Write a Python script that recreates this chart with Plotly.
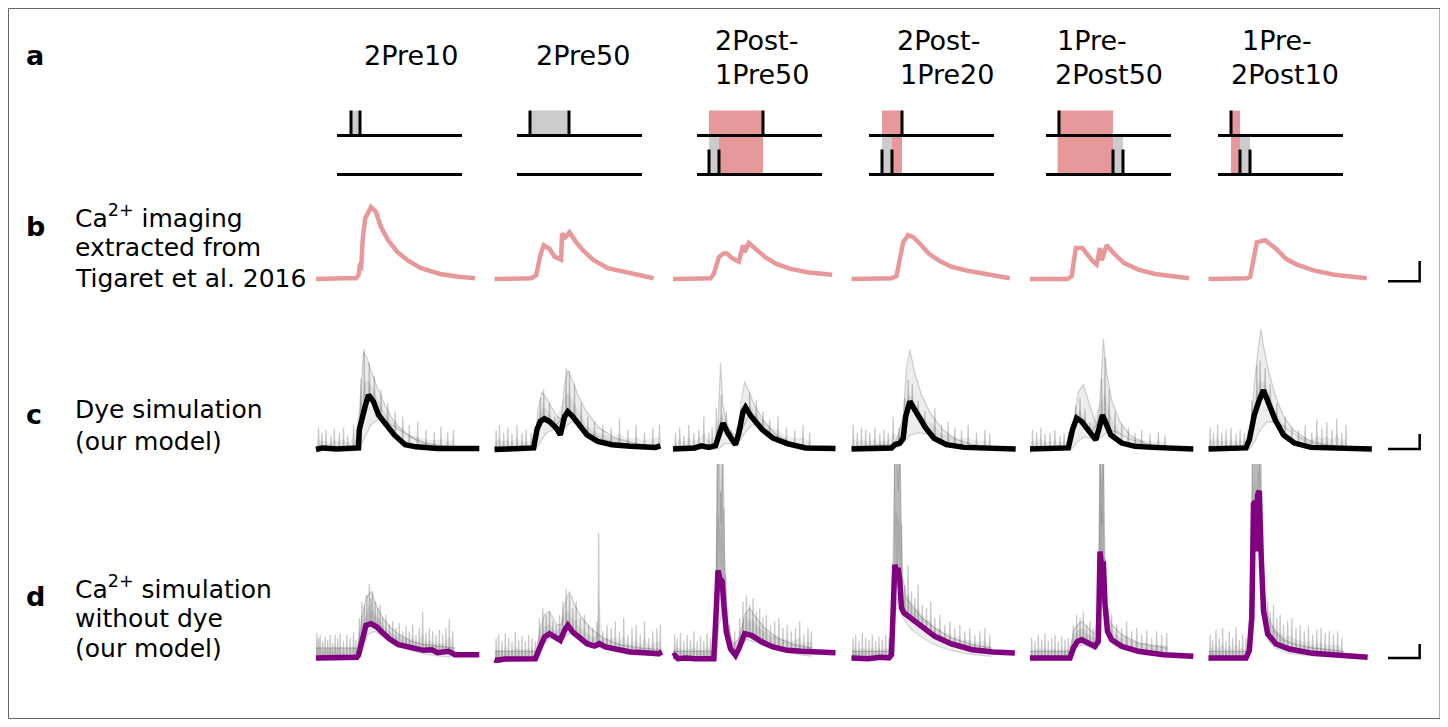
import numpy as np
import plotly.graph_objects as go

# page is rendered with an 8px body margin -> figure occupies [8, 1448] x [8, 727]
OX, OY = 8, 8
FW, FH = 1440, 719

# ---------------- data ----------------
titles = [["2Pre10"], ["2Pre50"], ["2Post-", "1Pre50"], ["2Post-", "1Pre20"],
          ["1Pre-", "2Post50"], ["1Pre-", "2Post10"]]
title_x = [[362], [534], [713, 713], [895, 898], [1055, 1053], [1240, 1229]]

# stimulation protocol diagrams (ms)
diag_len = 150
pre_times = [[16.8, 27.6], [15.6, 62.4], [79.2], [39.6], [15.6], [15.6]]
post_times = [[], [], [14.4, 26.4], [15.6, 27.6], [80.4, 92.4], [26.4, 38.4]]
pink_windows = [None, None, [14.4, 79.2], [15.6, 39.6], [14.0, 80.4], [15.6, 26.4]]

# row b: Ca imaging (Tigaret et al. 2016), normalised
b_t = [
    [0, 16, 33, 48, 51, 53, 54, 56, 59, 66, 72, 78, 87, 98, 111, 126, 149, 171, 191],
    [0, 21, 44, 50, 55, 59, 66, 72, 80, 81, 85, 90, 98, 106, 119, 136, 158, 191],
    [0, 45, 49, 55, 60, 64, 71, 79, 84, 86, 91, 99, 111, 124, 141, 163, 191],
    [0, 25, 48, 54, 58, 62, 68, 74, 83, 93, 106, 120, 141, 161, 190],
    [0, 45, 50, 55, 63, 69, 75, 80, 84, 86, 92, 101, 113, 130, 150, 191],
    [0, 46, 50, 54, 58, 68, 81, 93, 106, 126, 151, 190],
]
b_y = [
    [0.0, 0.01, 0.01, 0.01, 0.05, 0.22, 0.12, 0.55, 0.84, 1.0, 0.93, 0.72, 0.53, 0.37, 0.25, 0.15, 0.07, 0.03, 0.01],
    [0.0, 0.0, 0.01, 0.05, 0.33, 0.47, 0.42, 0.31, 0.27, 0.63, 0.58, 0.65, 0.51, 0.40, 0.26, 0.15, 0.09, 0.01],
    [0.0, 0.01, 0.07, 0.30, 0.35, 0.36, 0.29, 0.24, 0.47, 0.37, 0.50, 0.42, 0.30, 0.21, 0.14, 0.09, 0.06],
    [0.0, 0.0, 0.01, 0.04, 0.30, 0.51, 0.61, 0.58, 0.48, 0.35, 0.25, 0.17, 0.11, 0.07, 0.01],
    [0.0, 0.0, 0.04, 0.43, 0.43, 0.33, 0.25, 0.20, 0.43, 0.26, 0.47, 0.35, 0.22, 0.13, 0.07, 0.01],
    [0.0, 0.01, 0.03, 0.28, 0.51, 0.54, 0.42, 0.28, 0.20, 0.12, 0.06, 0.01],
]

# row c: dye simulation mean
c_t = [
    [0, 8, 25, 43, 51, 52, 55, 59, 63, 69, 75, 84, 94, 107, 120, 146, 167, 196],
    [0, 26, 47, 51, 55, 60, 66, 74, 79, 84, 88, 94, 103, 111, 124, 141, 163, 193, 199],
    [0, 26, 34, 43, 51, 56, 60, 66, 75, 79, 84, 87, 94, 107, 120, 137, 159, 195],
    [0, 48, 52, 58, 62, 65, 70, 79, 89, 99, 114, 135, 163, 197],
    [0, 46, 51, 56, 62, 70, 79, 83, 87, 91, 97, 110, 126, 147, 168, 196],
    [0, 45, 49, 55, 61, 66, 72, 80, 90, 103, 123, 165, 196],
]
c_y = [
    [-0.01, 0.02, 0.0, 0.0, 0.02, 0.36, 0.60, 0.79, 1.0, 0.88, 0.63, 0.45, 0.26, 0.08, 0.04, 0.01, 0.01, 0.01],
    [-0.01, 0.0, 0.02, 0.36, 0.51, 0.56, 0.51, 0.39, 0.26, 0.60, 0.69, 0.60, 0.42, 0.26, 0.14, 0.08, 0.05, 0.03, 0.06],
    [0.0, 0.02, 0.06, 0.03, 0.06, 0.26, 0.48, 0.29, 0.08, 0.29, 0.69, 0.77, 0.60, 0.36, 0.20, 0.10, 0.02, 0.01],
    [0.0, 0.02, 0.08, 0.11, 0.20, 0.60, 0.88, 0.63, 0.39, 0.20, 0.08, 0.03, 0.01, 0.0],
    [0.0, 0.02, 0.36, 0.57, 0.51, 0.33, 0.17, 0.39, 0.63, 0.48, 0.26, 0.11, 0.05, 0.03, 0.02, 0.0],
    [0.0, 0.02, 0.17, 0.63, 0.91, 1.09, 0.85, 0.54, 0.26, 0.11, 0.03, 0.01, 0.0],
]
# row c: individual runs (tall and slow examples) and noise spikes
c_tall_t = [
    [0, 50, 53, 57, 61, 66, 72, 80, 90, 100, 115, 130, 150, 167],
    [0, 48, 52, 57, 62, 68, 75, 80, 84, 88, 93, 100, 110, 125, 145, 170, 200],
    [0, 50, 54, 57, 60, 64, 70, 78, 82, 86, 90, 98, 110, 125, 145, 167],
    [0, 50, 55, 62, 66, 70, 76, 84, 95, 110, 125, 145, 168],
    [0, 48, 53, 58, 64, 70, 76, 80, 84, 88, 92, 98, 108, 120, 140, 165],
    [0, 46, 50, 55, 60, 63, 66, 72, 80, 90, 102, 118, 135, 150, 167],
]
c_tall_y = [
    [0.05, 0.05, 0.9, 1.8, 1.7, 1.45, 1.2, 0.9, 0.6, 0.4, 0.22, 0.12, 0.06, 0.04],
    [0.05, 0.05, 0.7, 1.05, 0.95, 0.8, 0.6, 0.55, 1.2, 1.45, 1.3, 1.0, 0.7, 0.4, 0.2, 0.1, 0.05],
    [0.05, 0.05, 0.4, 1.6, 0.8, 0.5, 0.3, 0.25, 0.9, 1.25, 1.1, 0.8, 0.5, 0.25, 0.1, 0.05],
    [0.05, 0.08, 0.2, 0.6, 1.5, 1.84, 1.4, 1.0, 0.65, 0.35, 0.18, 0.08, 0.04],
    [0.05, 0.05, 0.6, 1.05, 1.2, 0.9, 0.6, 0.45, 0.9, 2.04, 1.4, 0.9, 0.5, 0.25, 0.1, 0.05],
    [0.05, 0.05, 0.3, 1.2, 1.9, 2.23, 1.9, 1.45, 1.0, 0.6, 0.35, 0.18, 0.1, 0.06, 0.04],
]
c_slow_t = [
    [0, 52, 58, 66, 75, 85, 95, 110, 125, 140, 167],
    [0, 50, 56, 62, 70, 78, 85, 92, 100, 115, 130, 150, 200],
    [0, 55, 62, 70, 78, 86, 95, 105, 120, 140, 167],
    [0, 55, 62, 70, 80, 90, 100, 115, 130, 150, 168],
    [0, 50, 56, 64, 72, 80, 88, 96, 106, 120, 140, 165],
    [0, 50, 56, 62, 70, 80, 90, 100, 115, 135, 167],
]
c_slow_y = [
    [0.0, 0.0, 0.2, 0.45, 0.55, 0.5, 0.4, 0.25, 0.12, 0.05, 0.02],
    [0.0, 0.0, 0.15, 0.3, 0.35, 0.3, 0.4, 0.5, 0.45, 0.3, 0.18, 0.08, 0.02],
    [0.0, 0.0, 0.1, 0.1, 0.1, 0.3, 0.45, 0.4, 0.25, 0.1, 0.03],
    [0.0, 0.02, 0.1, 0.25, 0.3, 0.28, 0.22, 0.12, 0.06, 0.03, 0.01],
    [0.0, 0.0, 0.12, 0.22, 0.2, 0.15, 0.25, 0.35, 0.3, 0.18, 0.08, 0.03],
    [0.0, 0.0, 0.15, 0.35, 0.5, 0.5, 0.42, 0.3, 0.15, 0.06, 0.02],
]
c_spike_t = [
    [3, 7, 12, 18, 22, 28, 33, 38, 45, 54, 58, 64, 70, 78, 86, 95, 104, 112, 122, 132, 142, 150, 158, 165],
    [2, 6, 11, 16, 21, 27, 33, 38, 44, 55, 59, 66, 72, 86, 90, 96, 104, 112, 120, 130, 140, 150, 160, 170, 180, 190, 198],
    [3, 8, 13, 19, 25, 31, 37, 43, 47, 52, 58, 64, 70, 76, 92, 100, 108, 116, 126, 136, 146, 156, 164],
    [2, 7, 12, 17, 22, 28, 34, 39, 44, 50, 57, 64, 68, 73, 80, 88, 100, 108, 116, 124, 132, 140, 150, 160, 166],
    [3, 8, 13, 18, 24, 30, 36, 41, 46, 55, 60, 66, 72, 86, 90, 95, 102, 110, 118, 126, 134, 144, 154, 162],
    [2, 6, 11, 16, 21, 27, 33, 38, 43, 52, 58, 62, 68, 74, 82, 92, 100, 108, 116, 124, 130, 136, 142, 148, 154, 160, 165],
]
c_spike_top = [
    [0.4, 0.3, 0.35, 0.25, 0.38, 0.3, 0.4, 0.25, 0.45, 1.3, 1.85, 1.6, 1.35, 1.1, 0.85, 0.7, 0.6, 0.45, 0.5, 0.35, 0.32, 0.42, 0.3, 0.35],
    [0.35, 0.45, 0.3, 0.4, 0.28, 0.45, 0.3, 0.35, 0.3, 0.95, 1.1, 0.85, 0.6, 1.5, 1.45, 1.2, 0.85, 0.6, 0.5, 0.45, 0.4, 0.55, 0.35, 0.45, 0.3, 0.4, 0.45],
    [0.3, 0.4, 0.25, 0.45, 0.3, 0.35, 0.6, 0.3, 0.4, 0.75, 1.0, 0.7, 0.35, 0.4, 1.05, 0.9, 0.7, 0.55, 0.6, 0.4, 0.35, 0.45, 0.3],
    [0.45, 0.3, 0.4, 0.35, 0.3, 0.4, 0.28, 0.35, 0.3, 0.6, 0.4, 0.95, 1.28, 1.2, 0.9, 0.7, 0.75, 0.45, 0.5, 0.4, 0.35, 0.45, 0.3, 0.35, 0.28],
    [0.35, 0.3, 0.4, 0.28, 0.3, 0.35, 0.25, 0.3, 0.32, 0.8, 0.95, 0.75, 0.5, 1.3, 1.7, 1.1, 0.7, 0.45, 0.4, 0.3, 0.35, 0.28, 0.32, 0.25],
    [0.4, 0.3, 0.45, 0.3, 0.35, 0.4, 0.28, 0.35, 0.3, 0.9, 1.55, 1.64, 1.5, 1.2, 0.85, 0.6, 0.4, 0.35, 0.45, 0.3, 0.55, 0.4, 0.5, 0.35, 0.57, 0.3, 0.45],
]

# row d: Ca simulation without dye, mean
d_t = [
    [0, 2, 8, 15, 26, 38, 49, 51, 56, 60, 66, 73, 79, 88, 99, 111, 129, 139, 146, 159, 167, 196],
    [0, 2, 13, 26, 39, 49, 54, 60, 66, 75, 79, 84, 88, 94, 103, 111, 120, 126, 133, 146, 163, 180, 197, 201],
    [0, 2, 6, 15, 26, 38, 49, 52, 54, 56, 57, 59, 61, 64, 69, 75, 79, 86, 94, 107, 120, 137, 154, 167, 195],
    [0, 20, 35, 45, 48, 50, 52, 54, 56, 58, 60, 63, 68, 75, 85, 100, 120, 145, 170, 196],
    [0, 25, 48, 52, 57, 62, 70, 78, 82, 83, 84, 86, 88, 90, 93, 98, 110, 130, 160, 196],
    [0, 17, 33, 45, 49, 52, 54, 56, 57.5, 59, 61, 63, 66, 71, 81, 97, 125, 149, 163, 191],
]
d_y = [
    [0.0, 0.0, -0.02, 0.02, 0.0, 0.02, 0.02, 0.08, 0.58, 0.98, 1.03, 0.93, 0.78, 0.58, 0.40, 0.32, 0.23, 0.25, 0.16, 0.20, 0.10, 0.10],
    [-0.05, -0.07, -0.03, -0.02, 0.0, -0.02, 0.28, 0.63, 0.73, 0.58, 0.53, 0.83, 0.98, 0.78, 0.58, 0.43, 0.36, 0.43, 0.33, 0.26, 0.18, 0.16, 0.13, 0.18],
    [0.05, 0.08, -0.02, 0.0, -0.02, 0.0, -0.02, 1.5, 2.63, 2.4, 2.35, 2.3, 1.6, 0.78, 0.28, 0.08, 0.28, 0.73, 0.68, 0.48, 0.33, 0.23, 0.20, 0.20, 0.16],
    [0.0, -0.02, 0.02, 0.0, 0.1, 1.5, 2.8, 2.6, 2.7, 2.3, 1.5, 1.35, 1.25, 1.1, 0.9, 0.65, 0.42, 0.25, 0.18, 0.15],
    [0.0, -0.02, 0.0, 0.3, 0.5, 0.55, 0.45, 0.35, 0.5, 1.5, 3.2, 2.7, 2.9, 1.6, 0.8, 0.55, 0.35, 0.2, 0.1, 0.05],
    [0.0, 0.02, 0.0, 0.0, 0.22, 1.22, 4.62, 4.7, 3.2, 4.9, 5.02, 3.22, 1.42, 0.72, 0.42, 0.27, 0.14, 0.10, 0.07, 0.02],
]
d_tall_t = [
    [0, 50, 55, 60, 66, 72, 80, 90, 100, 115, 130, 150, 167],
    [0, 50, 55, 60, 66, 75, 80, 85, 90, 96, 105, 115, 130, 150, 175, 200],
    [0, 50, 52, 54, 56, 58, 60, 62, 66, 72, 80, 86, 92, 100, 110, 125, 145, 167],
    [0, 47, 50, 52, 54, 56, 58, 61, 66, 75, 85, 100, 120, 145, 168],
    [0, 48, 52, 57, 62, 70, 78, 82, 84, 86, 88, 90, 93, 98, 110, 130, 165],
    [0, 47, 50, 53, 55, 57, 59, 61, 63, 66, 72, 80, 90, 105, 125, 145, 163],
]
d_tall_y = [
    [0.3, 0.3, 1.2, 1.8, 2.0, 1.6, 1.2, 0.9, 0.7, 0.5, 0.4, 0.35, 0.3],
    [0.2, 0.2, 0.9, 1.3, 1.4, 1.0, 1.0, 1.7, 2.0, 1.6, 1.2, 0.9, 0.6, 0.4, 0.3, 0.25],
    [0.2, 0.2, 3.0, 6.5, 6.5, 4.0, 6.5, 3.0, 1.0, 0.4, 0.6, 1.3, 1.5, 1.2, 0.9, 0.6, 0.4, 0.3],
    [0.2, 0.2, 3.0, 6.5, 6.5, 5.0, 6.5, 2.5, 1.8, 1.5, 1.2, 0.9, 0.6, 0.4, 0.3],
    [0.2, 0.2, 0.8, 1.0, 1.1, 0.9, 0.7, 1.5, 6.5, 4.0, 6.5, 2.5, 1.4, 1.0, 0.7, 0.45, 0.3],
    [0.2, 0.2, 1.5, 6.5, 6.5, 6.0, 6.5, 6.5, 4.0, 2.0, 1.2, 0.8, 0.55, 0.4, 0.3, 0.25, 0.2],
]
d_slow_t = [
    [0, 50, 56, 62, 70, 80, 95, 110, 130, 150, 167],
    [0, 52, 58, 66, 75, 84, 90, 100, 115, 135, 160, 200],
    [0, 52, 55, 60, 65, 72, 80, 88, 96, 110, 130, 150, 167],
    [0, 48, 52, 56, 62, 70, 80, 95, 115, 140, 168],
    [0, 50, 56, 62, 70, 78, 84, 87, 90, 95, 105, 120, 140, 165],
    [0, 48, 52, 55, 58, 62, 66, 72, 80, 95, 115, 140, 163],
]
d_slow_y = [
    [-0.05, -0.05, 0.3, 0.7, 0.8, 0.65, 0.4, 0.25, 0.12, 0.05, 0.02],
    [-0.05, -0.05, 0.4, 0.6, 0.5, 0.6, 0.75, 0.6, 0.4, 0.25, 0.12, 0.05],
    [-0.05, -0.05, 1.0, 1.4, 0.6, 0.2, 0.3, 0.55, 0.5, 0.35, 0.2, 0.1, 0.05],
    [-0.05, 0.0, 1.2, 1.8, 1.2, 0.9, 0.7, 0.45, 0.25, 0.12, 0.05],
    [-0.05, -0.02, 0.3, 0.4, 0.35, 0.25, 1.5, 2.5, 1.2, 0.5, 0.3, 0.2, 0.1, 0.05],
    [-0.05, 0.0, 1.5, 3.5, 4.0, 3.5, 1.2, 0.5, 0.3, 0.15, 0.08, 0.04, 0.02],
]
d_spike_t = [
    [1, 3, 5, 8, 11, 14, 17, 20, 23, 26, 29, 33, 37, 41, 45, 48, 52, 55, 58, 61, 64, 66, 68, 71, 74, 77, 80, 84, 88, 92, 96, 100, 104, 108, 112, 116, 120, 124, 128, 132, 136, 140, 144, 148, 152, 156, 160, 164],
    [2, 5, 9, 13, 17, 21, 25, 29, 33, 37, 41, 45, 49, 54, 58, 62, 66, 70, 74, 78, 82, 86, 90, 94, 98, 103, 108, 113, 118, 123, 125, 130, 135, 140, 145, 150, 155, 160, 165, 170, 175, 180, 185, 190, 195, 199],
    [2, 5, 9, 13, 17, 21, 25, 29, 33, 37, 41, 45, 49, 53, 55, 57, 59, 61, 63, 68, 74, 80, 84, 88, 92, 96, 100, 104, 108, 112, 117, 122, 127, 132, 137, 142, 147, 152, 157, 162, 166],
    [2, 5, 9, 13, 17, 21, 25, 29, 33, 37, 41, 45, 50, 52, 54, 56, 58, 60, 64, 68, 72, 76, 80, 85, 90, 95, 100, 106, 112, 118, 124, 130, 136, 142, 148, 154, 160, 166],
    [2, 6, 10, 14, 18, 22, 26, 30, 34, 38, 42, 46, 52, 56, 60, 64, 68, 72, 76, 80, 84, 85, 87, 88, 90, 94, 98, 104, 110, 116, 122, 128, 134, 140, 146, 152, 158, 164],
    [2, 5, 9, 13, 17, 21, 25, 29, 33, 37, 41, 45, 51, 53, 55, 57, 59, 61, 63, 65, 68, 71, 74, 78, 82, 86, 90, 95, 100, 105, 110, 115, 120, 125, 130, 135, 140, 145, 150, 155, 160],
]
d_spike_top = [
    [0.75, 0.6, 0.7, 0.5, 0.65, 0.55, 0.7, 0.45, 0.7, 0.6, 0.75, 0.5, 0.7, 0.6, 0.78, 0.55, 1.2, 1.7, 1.6, 1.9, 2.23, 1.8, 2.0, 1.7, 1.5, 1.6, 1.2, 1.3, 1.0, 1.1, 0.9, 1.05, 0.8, 0.95, 0.8, 1.0, 0.7, 0.9, 1.38, 0.75, 0.9, 0.8, 0.7, 0.85, 0.7, 0.9, 1.18, 0.8],
    [0.6, 0.7, 0.5, 0.75, 0.6, 0.5, 0.78, 0.55, 0.65, 0.5, 0.7, 0.6, 0.5, 1.2, 1.5, 1.3, 1.4, 1.1, 1.0, 1.3, 1.7, 2.08, 1.9, 1.5, 1.7, 1.2, 1.3, 1.0, 0.9, 1.1, 3.76, 0.8, 1.0, 0.9, 1.1, 0.8, 1.2, 0.7, 0.9, 1.0, 0.7, 1.1, 0.6, 0.8, 0.9, 1.0],
    [0.7, 0.6, 0.75, 0.5, 0.7, 0.55, 0.8, 0.5, 0.65, 0.5, 0.75, 0.6, 0.55, 6.5, 6.5, 5.0, 6.5, 4.5, 2.5, 1.0, 0.8, 1.2, 1.7, 1.88, 1.6, 1.8, 1.4, 1.5, 1.2, 1.3, 1.0, 1.1, 1.2, 0.9, 1.0, 0.8, 0.9, 1.1, 0.7, 0.9, 0.8],
    [0.6, 0.7, 0.5, 0.75, 0.6, 0.55, 0.7, 0.5, 0.65, 0.55, 0.7, 0.6, 2.0, 6.5, 6.5, 6.0, 6.5, 4.0, 2.2, 2.8, 2.0, 1.8, 2.2, 1.6, 1.5, 1.7, 1.2, 1.3, 1.0, 1.1, 0.9, 1.0, 0.8, 0.9, 0.7, 0.8, 0.9, 0.7],
    [0.6, 0.5, 0.7, 0.55, 0.75, 0.5, 0.6, 0.7, 0.5, 0.65, 0.55, 0.6, 1.0, 1.3, 1.2, 1.4, 1.0, 1.1, 0.9, 1.0, 6.5, 6.5, 6.0, 6.5, 3.0, 1.5, 1.3, 1.0, 0.9, 1.1, 0.8, 0.9, 0.7, 0.85, 0.6, 0.8, 0.7, 0.75],
    [0.7, 0.55, 0.85, 0.6, 0.9, 0.5, 0.8, 0.6, 0.92, 0.55, 0.7, 0.6, 3.0, 6.5, 6.5, 6.5, 6.5, 6.5, 6.5, 4.0, 1.82, 1.7, 1.4, 1.6, 1.2, 1.3, 1.0, 1.1, 1.2, 0.9, 1.0, 0.8, 0.95, 0.7, 0.85, 0.9, 0.75, 0.8, 0.7, 0.8, 0.6],
]

# scale bars (ms, row units)
scalebar_ms = 38
scalebar_h = {"b": 0.28, "c": 0.28, "d": 0.42}

# ---------------- styling / layout constants ----------------
PINK = "rgb(230,152,154)"
GRAYFILL = "rgb(204,204,204)"
PURPLE = "rgb(128,0,128)"
FONT = "DejaVu Sans"
FS = 25
FS_TITLE = 27

DIAG_LEFT = [337, 517, 697, 869, 1046, 1218]
DIAG_PPMS = 125 / 150
TRACE_LEFT = [316, 494.5, 673, 851.5, 1030, 1208.5]
PPMS = 160 / 192
ROWS = {  # top_px, bottom_px, baseline_px, px_per_unit
    "b": (190, 292, 279, 72),
    "c": (300, 462, 449, 54),
    "d": (464, 668, 658, 33.3),
}


def PX(px):
    return (px - OX) / FW


def PY(py):
    return 1 - (py - OY) / FH


layout = dict(width=FW, height=FH, margin=dict(l=0, r=0, t=0, b=0),
              paper_bgcolor="white", plot_bgcolor="rgba(0,0,0,0)", showlegend=False)
fig = go.Figure()
_n = [0]


def new_axes(x0, x1, origin, ppx, y0, y1, base, ppy):
    _n[0] += 1
    s = "" if _n[0] == 1 else str(_n[0])
    layout["xaxis" + s] = dict(domain=[PX(x0), PX(x1)], range=[(x0 - origin) / ppx, (x1 - origin) / ppx],
                               visible=False, fixedrange=True, anchor="y" + s)
    layout["yaxis" + s] = dict(domain=[PY(y1), PY(y0)], range=[-(y1 - base) / ppy, (base - y0) / ppy],
                               visible=False, fixedrange=True, anchor="x" + s)
    return "x" + s, "y" + s


def add_line(xa, ya, x, y, color, width):
    fig.add_trace(go.Scatter(x=x, y=y, xaxis=xa, yaxis=ya, mode="lines",
                             line=dict(color=color, width=width), hoverinfo="skip"))


def add_rect(xa, ya, a, b, y0, y1, color):
    fig.add_trace(go.Scatter(x=[a, b, b, a, a], y=[y0, y0, y1, y1, y0], xaxis=xa, yaxis=ya,
                             mode="lines", fill="toself", fillcolor=color, line=dict(width=0),
                             hoverinfo="skip"))


def add_band(xa, ya, lo_t, lo_y, hi_t, hi_y, color, t_end):
    grid = np.arange(0, t_end + 0.25, 0.5)
    lo = np.interp(grid, lo_t, lo_y)
    hi = np.interp(grid, hi_t, hi_y)
    lo2 = np.minimum(lo, hi)
    hi2 = np.maximum(lo, hi)
    fig.add_trace(go.Scatter(x=np.concatenate([grid, grid[::-1]]), y=np.concatenate([lo2, hi2[::-1]]),
                             xaxis=xa, yaxis=ya, mode="lines", fill="toself", fillcolor=color,
                             line=dict(width=0), hoverinfo="skip"))


def noisy(st, top, mt, my, half=0.7):
    """continuous noisy run through the spike tops, riding on the mean"""
    base = np.interp(st, mt, my)
    xs, ys = [], []
    for t, b0, tp in zip(st, base, top):
        xs += [t - half, t, t + half]
        ys += [b0, tp, b0]
    return xs, ys


def envelope(st, top, mt, my):
    base = np.interp(st, mt, my)
    return list(st), list(np.maximum(np.array(top) * 0.45 + base * 0.55, base))


# ---- row a: protocol diagrams ----
TICK_H = 0.64
for i in range(6):
    xa, ya = new_axes(DIAG_LEFT[i] - 5, DIAG_LEFT[i] + 135, DIAG_LEFT[i], DIAG_PPMS, 100, 182, 174.5, 39)
    if pink_windows[i]:
        add_rect(xa, ya, pink_windows[i][0], pink_windows[i][1], 0, 1 + TICK_H, PINK)
    if len(pre_times[i]) == 2:
        add_rect(xa, ya, pre_times[i][0], pre_times[i][1], 1, 1 + TICK_H, GRAYFILL)
    if len(post_times[i]) == 2:
        add_rect(xa, ya, post_times[i][0], post_times[i][1], 0, 1, GRAYFILL)
    add_line(xa, ya, [0, diag_len, None, 0, diag_len], [1, 1, None, 0, 0], "black", 3)
    tx, ty = [], []
    for t in pre_times[i]:
        tx += [t, t, None]
        ty += [1, 1 + TICK_H, None]
    for t in post_times[i]:
        tx += [t, t, None]
        ty += [0, TICK_H, None]
    add_line(xa, ya, tx, ty, "black", 3)

# ---- rows b, c, d ----
for i in range(6):
    L = TRACE_LEFT[i]
    top, bot, base, ppu = ROWS["b"]
    xa, ya = new_axes(L - 4, L + 172, L, PPMS, top, bot, base, ppu)
    add_line(xa, ya, b_t[i], b_y[i], PINK, 4.5)

    for key, mt, my, tt, ty, slt, sly, spt, spv, mcol in (
            ("c", c_t[i], c_y[i], c_tall_t[i], c_tall_y[i], c_slow_t[i], c_slow_y[i],
             c_spike_t[i], c_spike_top[i], "black"),
            ("d", d_t[i], d_y[i], d_tall_t[i], d_tall_y[i], d_slow_t[i], d_slow_y[i],
             d_spike_t[i], d_spike_top[i], PURPLE)):
        top, bot, base, ppu = ROWS[key]
        xa, ya = new_axes(L - 4, L + 172, L, PPMS, top, bot, base, ppu)
        t_end = min(tt[-1], slt[-1])
        # cloud of individual runs
        add_band(xa, ya, slt, sly, tt, ty, "rgba(0,0,0,0.07)", t_end)
        et, ev = envelope(spt, spv, mt, my)
        add_band(xa, ya, [0] + et, [my[0]] + ev, mt, my, "rgba(0,0,0,0.07)", spt[-1])
        add_line(xa, ya, slt, sly, "rgba(0,0,0,0.14)", 1.3)
        add_line(xa, ya, tt, ty, "rgba(0,0,0,0.16)", 1.3)
        nx, nyv = noisy(spt, spv, mt, my)
        add_line(xa, ya, nx, nyv, "rgba(0,0,0,0.22)", 1.2)
        add_line(xa, ya, mt, my, mcol, 5.5)

# ---- scale bars ----
SB_LEFT = 1388
for key, off in (("b", -0.03), ("c", 0.0), ("d", 0.0)):
    top, bot, base, ppu = ROWS[key]
    xa, ya = new_axes(SB_LEFT - 5, SB_LEFT + 45, SB_LEFT, PPMS, top, bot, base, ppu)
    add_line(xa, ya, [0, scalebar_ms, scalebar_ms], [off, off, off + scalebar_h[key]], "black", 2.5)

# ---- text ----
ann = []


def text(x, y, s, size=FS, bold=False, anchor="left"):
    ann.append(dict(x=PX(x), y=PY(y), xref="paper", yref="paper", text=("<b>%s</b>" % s) if bold else s,
                    showarrow=False, xanchor=anchor, yanchor="middle",
                    font=dict(family=FONT, size=size, color="black")))


for i in range(6):
    if len(titles[i]) == 1:
        text(title_x[i][0], 55, titles[i][0], size=FS_TITLE)
    else:
        text(title_x[i][0], 40, titles[i][0], size=FS_TITLE)
        text(title_x[i][1], 75, titles[i][1], size=FS_TITLE)

for lab, y in (("a", 55), ("b", 226), ("c", 414), ("d", 596)):
    text(24, y, lab, size=27, bold=True)

row_labels = [
    ("Ca<sup>2+</sup> imaging", 216), ("extracted from", 247), ("Tigaret et al. 2016", 278),
    ("Dye simulation", 410), ("(our model)", 441),
    ("Ca<sup>2+</sup> simulation", 587), ("without dye", 618), ("(our model)", 648),
]
for s, y in row_labels:
    text(73, y, s)

layout["annotations"] = ann
layout["shapes"] = [dict(type="rect", xref="paper", yref="paper", x0=PX(8.5), x1=PX(1440),
                         y0=PY(718.5), y1=PY(8.5), line=dict(color="#666666", width=1))]
fig.update_layout(**layout)
fig.write_html("out.html")
